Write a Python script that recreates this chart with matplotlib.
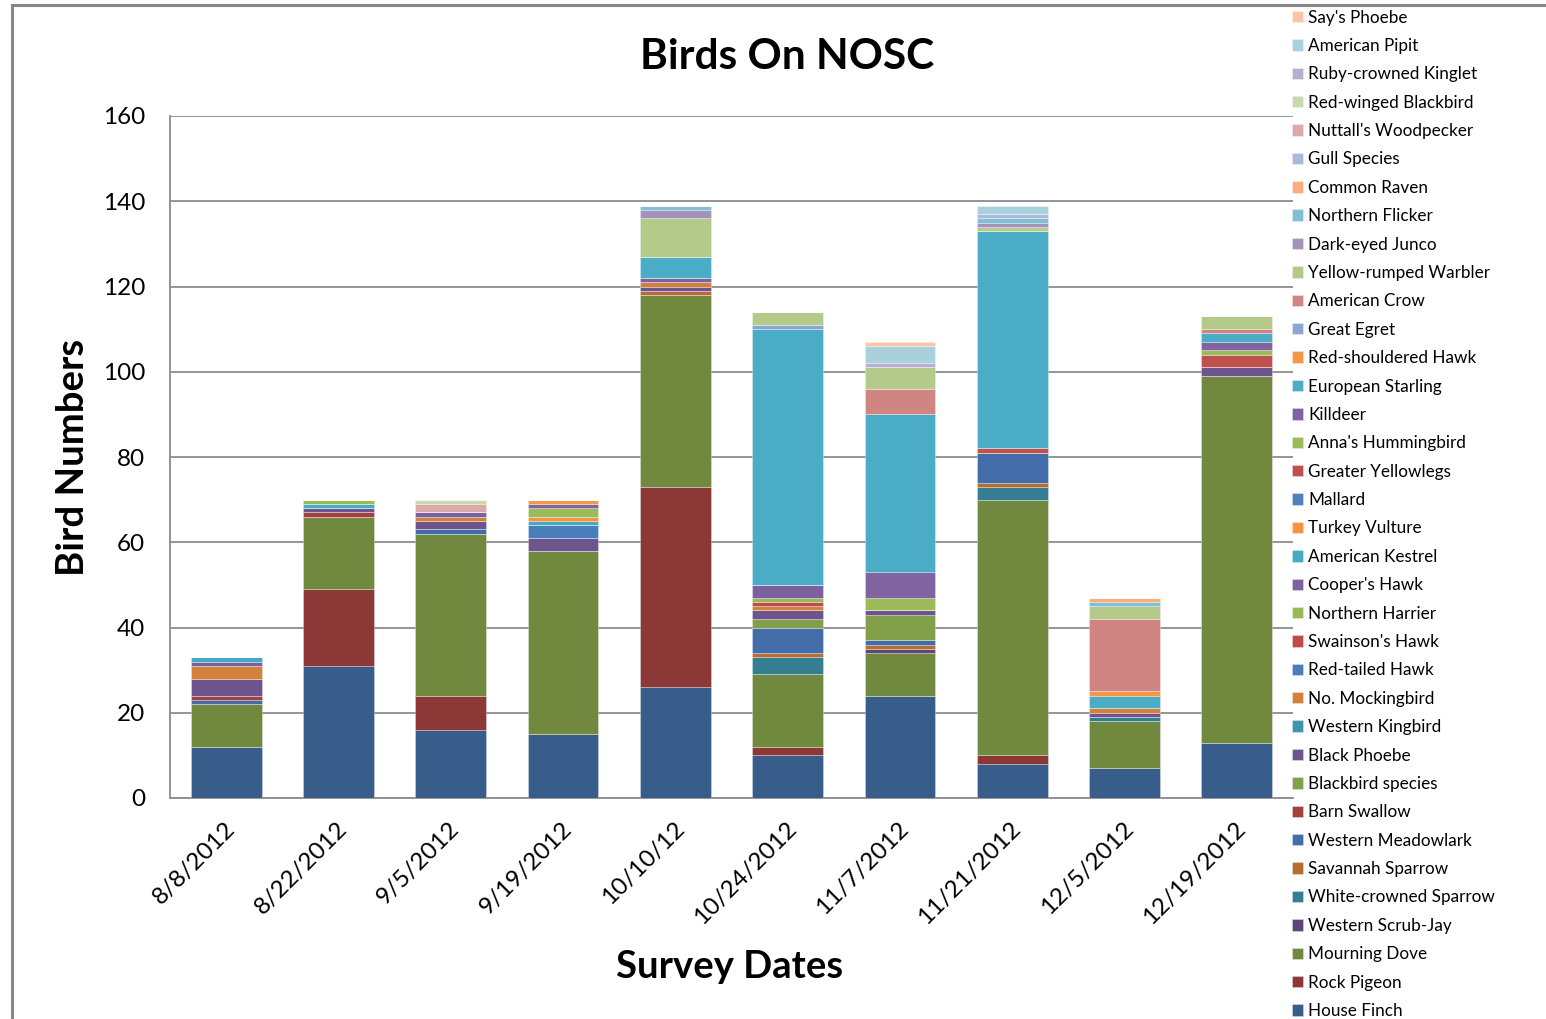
import matplotlib
matplotlib.use("Agg")
import matplotlib.pyplot as plt
from matplotlib.lines import Line2D
import matplotlib.transforms as mtransforms
import numpy as np

plt.rcParams['font.family'] = ['Lato', 'DejaVu Sans']

# Survey dates (x categories)
dates = ["8/8/2012", "8/22/2012", "9/5/2012", "9/19/2012", "10/10/12",
         "10/24/2012", "11/7/2012", "11/21/2012", "12/5/2012", "12/19/2012"]

# Counts per species, one value per survey date (stacked bottom to top)
house_finch = [12, 31, 16, 15, 26, 10, 24, 8, 7, 13]
rock_pigeon = [0, 18, 8, 0, 47, 2, 0, 2, 0, 0]
mourning_dove = [10, 17, 38, 43, 45, 17, 10, 60, 11, 86]
western_scrub_jay = [0, 0, 0, 0, 0, 0, 1, 0, 0, 0]
white_crowned_sparrow = [0, 0, 0, 0, 0, 4, 0, 3, 1, 0]
savannah_sparrow = [0, 0, 0, 0, 1, 1, 1, 1, 0, 0]
western_meadowlark = [1, 0, 1, 0, 0, 6, 1, 7, 0, 0]
barn_swallow = [1, 1, 0, 0, 0, 0, 0, 0, 0, 0]
blackbird_species = [0, 0, 0, 0, 0, 2, 6, 0, 0, 0]
black_phoebe = [4, 1, 2, 3, 1, 2, 1, 0, 1, 2]
western_kingbird = [0, 0, 0, 0, 0, 0, 0, 0, 0, 0]
no_mockingbird = [3, 0, 1, 0, 1, 1, 0, 0, 1, 0]
red_tailed_hawk = [0, 0, 0, 3, 0, 0, 0, 0, 0, 0]
swainsons_hawk = [0, 0, 0, 0, 0, 1, 0, 0, 0, 0]
northern_harrier = [0, 0, 0, 0, 0, 1, 0, 0, 0, 0]
coopers_hawk = [1, 0, 1, 0, 1, 3, 0, 0, 0, 0]
american_kestrel = [1, 1, 0, 1, 0, 0, 0, 0, 0, 0]
turkey_vulture = [0, 0, 0, 1, 0, 0, 0, 0, 0, 0]
mallard = [0, 0, 0, 0, 0, 0, 0, 0, 0, 0]
greater_yellowlegs = [0, 0, 0, 0, 0, 0, 0, 1, 0, 3]
annas_hummingbird = [0, 1, 0, 2, 0, 0, 3, 0, 0, 1]
killdeer = [0, 0, 0, 1, 0, 0, 6, 0, 0, 2]
european_starling = [0, 0, 0, 0, 5, 60, 37, 51, 3, 2]
red_shouldered_hawk = [0, 0, 0, 1, 0, 0, 0, 0, 1, 0]
great_egret = [0, 0, 0, 0, 0, 1, 0, 0, 0, 0]
american_crow = [0, 0, 0, 0, 0, 0, 6, 0, 17, 1]
yellow_rumped_warbler = [0, 0, 0, 0, 9, 3, 5, 1, 3, 3]
dark_eyed_junco = [0, 0, 0, 0, 2, 0, 0, 1, 0, 0]
northern_flicker = [0, 0, 0, 0, 1, 0, 0, 1, 1, 0]
common_raven = [0, 0, 0, 0, 0, 0, 0, 0, 1, 0]
gull_species = [0, 0, 0, 0, 0, 0, 0, 1, 0, 0]
nuttalls_woodpecker = [0, 0, 2, 0, 0, 0, 0, 0, 0, 0]
red_winged_blackbird = [0, 0, 1, 0, 0, 0, 0, 0, 0, 0]
ruby_crowned_kinglet = [0, 0, 0, 0, 0, 0, 1, 0, 0, 0]
american_pipit = [0, 0, 0, 0, 0, 0, 4, 2, 0, 0]
says_phoebe = [0, 0, 0, 0, 0, 0, 1, 0, 0, 0]

species = ["House Finch", "Rock Pigeon", "Mourning Dove", "Western Scrub-Jay",
           "White-crowned Sparrow", "Savannah Sparrow", "Western Meadowlark",
           "Barn Swallow", "Blackbird species", "Black Phoebe", "Western Kingbird",
           "No. Mockingbird", "Red-tailed Hawk", "Swainson's Hawk", "Northern Harrier",
           "Cooper's Hawk", "American Kestrel", "Turkey Vulture", "Mallard",
           "Greater Yellowlegs", "Anna's Hummingbird", "Killdeer", "European Starling",
           "Red-shouldered Hawk", "Great Egret", "American Crow", "Yellow-rumped Warbler",
           "Dark-eyed Junco", "Northern Flicker", "Common Raven", "Gull Species",
           "Nuttall's Woodpecker", "Red-winged Blackbird", "Ruby-crowned Kinglet",
           "American Pipit", "Say's Phoebe"]

counts = [house_finch, rock_pigeon, mourning_dove, western_scrub_jay,
          white_crowned_sparrow, savannah_sparrow, western_meadowlark,
          barn_swallow, blackbird_species, black_phoebe, western_kingbird,
          no_mockingbird, red_tailed_hawk, swainsons_hawk, northern_harrier,
          coopers_hawk, american_kestrel, turkey_vulture, mallard,
          greater_yellowlegs, annas_hummingbird, killdeer, european_starling,
          red_shouldered_hawk, great_egret, american_crow, yellow_rumped_warbler,
          dark_eyed_junco, northern_flicker, common_raven, gull_species,
          nuttalls_woodpecker, red_winged_blackbird, ruby_crowned_kinglet,
          american_pipit, says_phoebe]

colors = ["#385D8A", "#8C3836", "#71893F", "#5C4776", "#357D91", "#B66D31",
          "#426DA9", "#A5403D", "#82A04A", "#6E548D", "#3F95AC", "#D2803A",
          "#4A7EBB", "#BE4B48", "#98B954", "#7D60A0", "#46AAC5", "#F69240",
          "#4F81BD", "#C0504D", "#9BBB59", "#8064A2", "#4BACC6", "#F79646",
          "#8AA6D4", "#D08582", "#B3CA8A", "#A392BC", "#82BFD2", "#F9AE80",
          "#A9B9DA", "#DBA9A8", "#C8D9AE", "#BAAED0", "#A8D0DD", "#FBC5A6"]

W, H = 1546, 1019
fig = plt.figure(figsize=(W / 100, H / 100), dpi=100)
fig.patch.set_facecolor("white")

ax = fig.add_axes([170 / W, 1 - 798 / H, (1293 - 170) / W, (798 - 116) / H])

x = np.arange(len(dates))
bottom = np.zeros(len(dates))
handles = []
for name, vals, col in zip(species, counts, colors):
    vals = np.array(vals, dtype=float)
    bars = ax.bar(x, vals, width=0.63, bottom=bottom, color=col,
                  edgecolor=(1, 1, 1, 0.35), linewidth=0.6, label=name, zorder=3)
    handles.append(bars)
    bottom += vals

ax.set_xlim(-0.5, len(dates) - 0.5)
ax.set_ylim(0, 160)
ax.set_yticks(np.arange(0, 161, 20))
ax.yaxis.grid(True, color="#8c8c8c", linewidth=1.3, zorder=0)
ax.set_axisbelow(True)
for s in ["top", "right"]:
    ax.spines[s].set_visible(False)
for s in ["left", "bottom"]:
    ax.spines[s].set_color("#8c8c8c")
    ax.spines[s].set_linewidth(1.3)
ax.tick_params(axis="y", length=0, labelsize=17.5, pad=18, colors="black")
ax.tick_params(axis="x", length=0, labelsize=17.5, pad=4)
ax.set_xticks(x)
ax.set_xticklabels(dates, rotation=45, ha="right", rotation_mode="anchor")
shift = mtransforms.ScaledTranslation(-0.02, -0.14, fig.dpi_scale_trans)
for lbl in ax.get_xticklabels():
    lbl.set_transform(lbl.get_transform() + shift)

fig.text(787 / W, 1 - 57 / H, "Birds On NOSC", ha="center", va="center",
         fontsize=30.5, fontweight="bold")
fig.text(73 / W, 1 - 457 / H, "Bird Numbers", ha="center", va="center",
         rotation=90, fontsize=27.5, fontweight="bold")
fig.text(730 / W, 1 - 967 / H, "Survey Dates", ha="center", va="center",
         fontsize=27.5, fontweight="bold")

leg = fig.legend(handles[::-1], species[::-1], loc="upper left",
                 bbox_to_anchor=(1292 / W, 1 - 9.5 / H), frameon=False,
                 fontsize=12.3, handlelength=0.65, handleheight=0.65,
                 handletextpad=0.3, labelspacing=0.725, borderaxespad=0,
                 borderpad=0)

# outer chart frame
fig.add_artist(Line2D([12 / W, 1.0], [1 - 5 / H, 1 - 5 / H], color="#888888", lw=2.2))
fig.add_artist(Line2D([12 / W, 12 / W], [0, 1 - 5 / H], color="#888888", lw=2.2))

fig.savefig("out.png", dpi=100)
